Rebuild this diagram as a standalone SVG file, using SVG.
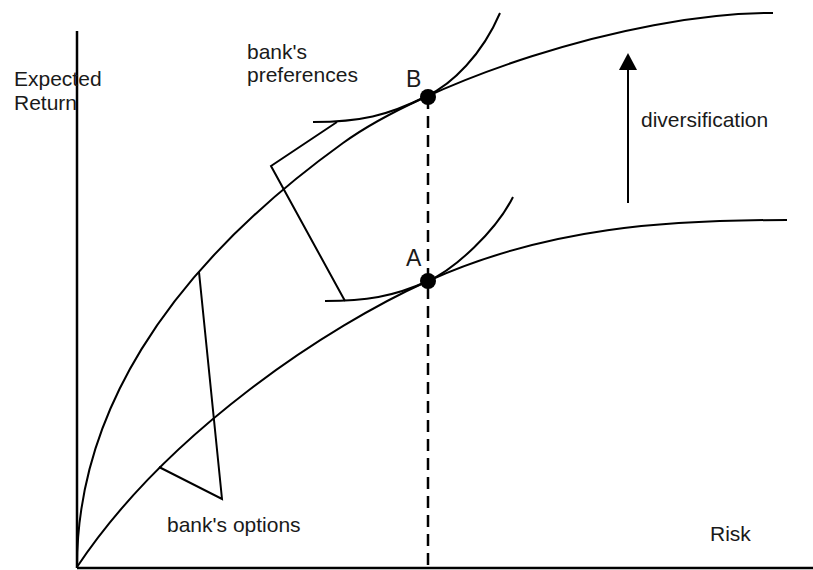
<svg xmlns="http://www.w3.org/2000/svg" width="813" height="570" viewBox="0 0 813 570">
<style>
.ln{fill:none;stroke:#000;stroke-width:2;stroke-linejoin:miter}
.ax{fill:none;stroke:#000;stroke-width:2.5}
.dash{fill:none;stroke:#000;stroke-width:2.5;stroke-dasharray:12 7}
.t{font-family:"Liberation Sans",Arial,sans-serif;font-size:21px;fill:#1a1a1a}
.pt{font-family:"Liberation Sans",Arial,sans-serif;font-size:23px;fill:#1a1a1a}
</style>
<rect width="813" height="570" fill="#fff"/>
<g id="axes">
<line class="ax" x1="77" y1="31" x2="77" y2="568"/>
<line class="ax" x1="77" y1="568" x2="813" y2="568"/>
<text class="t" x="14" y="86">Expected</text>
<text class="t" x="14" y="110">Return</text>
<text class="t" x="710" y="541">Risk</text>
</g>
<g id="connectors">
<path id="frontier-upper" class="ln" d="M77,567 C77,420 160,275 343,143 C423,85 623,13 773,13"/>
<path id="frontier-lower" class="ln" d="M77,567 C167,432 328,326 428,281 C548,227 667,220 787,220"/>
<path id="indiff-B" class="ln" d="M313,122 C360,122 387,116 427,96 C452,84 482,55 500,13"/>
<path id="indiff-A" class="ln" d="M325,301 C365,301 393,297 428,281 C455,269 496,231 513,197"/>
<line class="dash" x1="428" y1="97" x2="428" y2="568"/>
<polyline id="bracket-preferences" class="ln" points="337,122 271,166 345,301"/>
<polyline id="bracket-options" class="ln" points="199,272 222,499 159,467"/>
<line class="ln" x1="628" y1="203" x2="628" y2="68"/>
<polygon points="628,53 619,70 637,70" fill="#000"/>
</g>
<g id="point-B">
<circle cx="428" cy="97" r="8" fill="#000"/>
<text class="pt" x="406" y="87">B</text>
</g>
<g id="point-A">
<circle cx="428" cy="281" r="8" fill="#000"/>
<text class="pt" x="406" y="266">A</text>
</g>
<g id="label-preferences">
<text class="t" x="247" y="59">bank's</text>
<text class="t" x="247" y="82">preferences</text>
</g>
<g id="label-options">
<text class="t" x="167" y="532">bank's options</text>
</g>
<g id="label-diversification">
<text class="t" x="641" y="127">diversification</text>
</g>
</svg>
